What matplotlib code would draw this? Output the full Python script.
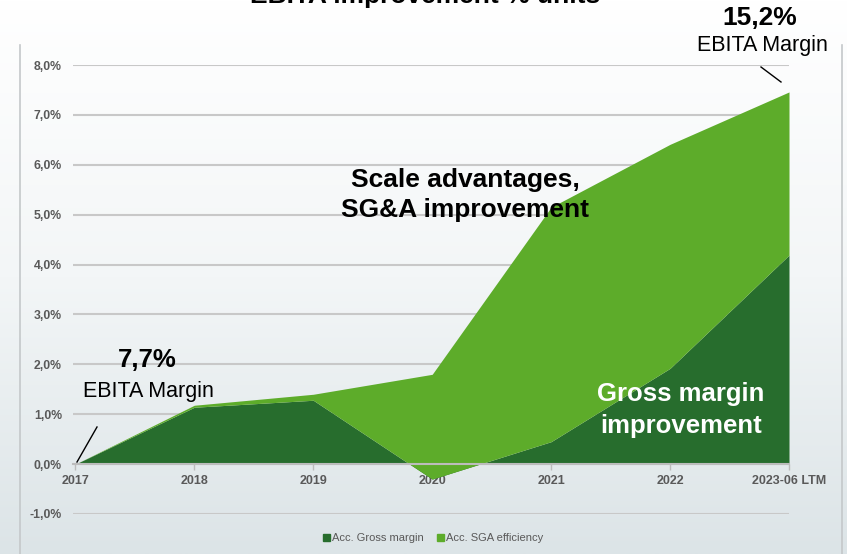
import numpy as np
import matplotlib
matplotlib.use('Agg')
import matplotlib.pyplot as plt
from matplotlib.patches import Patch
from matplotlib.lines import Line2D
from matplotlib.colors import LinearSegmentedColormap

# Data (percentage points)
years = ['2017', '2018', '2019', '2020', '2021', '2022', '2023-06 LTM']
gross_margin = [0.0, 1.14, 1.28, -0.30, 0.45, 1.92, 4.19]
sga_efficiency = [0.0, 0.04, 0.12, 2.10, 4.70, 4.49, 3.27]
y_ticks = [-1, 0, 1, 2, 3, 4, 5, 6, 7, 8]

DARK = '#276d2d'
LIGHT = '#5dac2a'
GRID = '#c8c8c8'
LABEL = '#595959'
SANS = ['Liberation Sans', 'DejaVu Sans']

W, H = 847, 554
fig = plt.figure(figsize=(W / 100, H / 100), dpi=100)


def px(x, y):
    # pixel coords (from top-left) -> figure fraction
    return x / W, 1 - y / H


# Background gradient
bg = fig.add_axes([0, 0, 1, 1], zorder=-5)
grad = np.linspace(0, 1, 256).reshape(-1, 1)
cmap = LinearSegmentedColormap.from_list('bg', ['#ffffff', '#f3f6f7', '#dce4e7'])
bg.imshow(grad, aspect='auto', cmap=cmap, extent=[0, 1, 0, 1], origin='upper')
bg.set_xlim(0, 1)
bg.set_ylim(0, 1)
bg.axis('off')
bg.add_line(Line2D([20 / W, 20 / W], [0, 1 - 45 / H], color='#c4c8ca', lw=1.2))
bg.add_line(Line2D([842 / W, 842 / W], [0, 1 - 45 / H], color='#c4c8ca', lw=1.2))

# Main axes: x 2017 -> 75px, 2023 -> 789px ; y 8% -> 65px, -1% -> 514px
x0, x1 = 73, 789
ytop, ybot = 65, 514
ax = fig.add_axes([x0 / W, 1 - ybot / H, (x1 - x0) / W, (ybot - ytop) / H])
ax.patch.set_alpha(0)

x = np.arange(len(years))
gm = np.array(gross_margin)
total = gm + np.array(sga_efficiency)

ax.fill_between(x, 0, gm, color=DARK, lw=0, zorder=1)
ax.fill_between(x, gm, total, color=LIGHT, lw=0, zorder=1)

# spine position first (it resets the ticks)
for s in ['top', 'right', 'left']:
    ax.spines[s].set_visible(False)
ax.spines['bottom'].set_position(('data', 0))
ax.spines['bottom'].set_color('#bcbcbc')
ax.spines['bottom'].set_linewidth(1.5)

ax.set_xlim(-0.02, len(years) - 1)
ax.set_ylim(-1, 8)
ax.set_yticks(y_ticks)
ax.set_yticklabels([('%.1f%%' % v).replace('.', ',') for v in y_ticks],
                   fontfamily=SANS, fontweight='bold', fontsize=8.8, color=LABEL)
ax.set_xticks(x)
ax.set_xticklabels(years, fontfamily=SANS, fontweight='bold', fontsize=9, color=LABEL)

ax.set_axisbelow(True)
ax.yaxis.grid(True, color=GRID, lw=1.5)
ax.tick_params(axis='y', length=0, pad=8)
ax.tick_params(axis='x', length=4, width=1, color='#bcbcbc', pad=4)

# Legend
handles = [Patch(color=DARK, label='Acc. Gross margin'),
           Patch(color=LIGHT, label='Acc. SGA efficiency')]
fig.legend(handles=handles, loc='center', bbox_to_anchor=px(433, 538), ncol=2,
           frameon=False, handlelength=0.6, handleheight=0.6, handletextpad=0.2,
           columnspacing=1.2, prop={'family': SANS, 'size': 8}, labelcolor=LABEL)

# Title (cut off at top, as in the source slide)
fig.text(*px(425, -4), 'EBITA improvement % units', ha='center', va='center',
         fontsize=19, fontweight='bold', family=SANS, color='black')

# Annotations
fig.text(*px(147, 360), '7,7%', ha='center', va='center', fontsize=18.5,
         fontweight='bold', family=SANS)
fig.text(*px(148, 391), 'EBITA Margin', ha='center', va='center', fontsize=15.5, family=SANS)
fig.add_artist(Line2D([77 / W, 97 / W], [1 - 462 / H, 1 - 427 / H],
                      color='black', lw=1, transform=fig.transFigure))

fig.text(*px(760, 18), '15,2%', ha='center', va='center', fontsize=19,
         fontweight='bold', family=SANS)
fig.text(*px(762, 46), 'EBITA Margin', ha='center', va='center', fontsize=15.5, family=SANS)
fig.add_artist(Line2D([761 / W, 781 / W], [1 - 67 / H, 1 - 82 / H],
                      color='black', lw=1, transform=fig.transFigure))

fig.text(*px(465, 195), 'Scale advantages,\nSG&A improvement', ha='center', va='center',
         fontsize=19, fontweight='bold', family=SANS, linespacing=1.35)
fig.text(*px(681, 410), 'Gross margin\nimprovement', ha='center', va='center',
         fontsize=18.5, fontweight='bold', family=SANS, color='white', linespacing=1.4)

fig.savefig('out.png', dpi=100)
